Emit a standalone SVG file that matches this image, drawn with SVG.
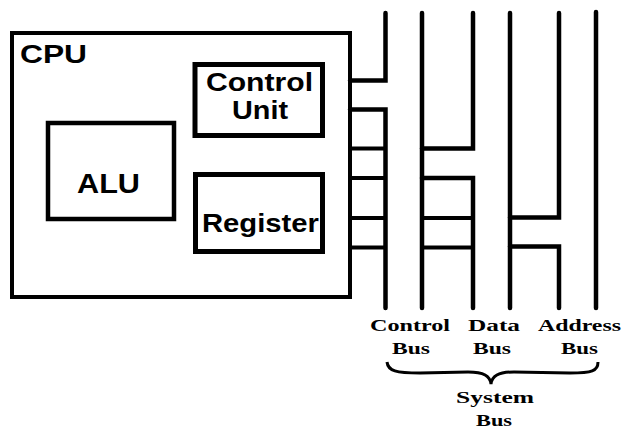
<svg xmlns="http://www.w3.org/2000/svg" width="622" height="431" viewBox="0 0 622 431">
<style>
  .box { fill: #fff; stroke: #000; }
  .lbl { font-family: "Liberation Sans", Arial, sans-serif; font-weight: bold; fill: #000; }
  .bus { fill: none; stroke: #000; stroke-width: 4.5; stroke-linecap: round; stroke-linejoin: miter; }
  .wire { fill: none; stroke: #000; stroke-width: 4; stroke-linecap: butt; stroke-linejoin: miter; }
  .blbl { font-family: "Liberation Serif", "Times New Roman", serif; font-weight: bold; font-size: 17px; fill: #000; }
</style>
<rect width="622" height="431" fill="#fff"/>

<g id="cpu">
  <rect class="box" x="12" y="33" width="338" height="264" stroke-width="4"/>
  <text class="lbl" x="20" y="63" font-size="26" textLength="67" lengthAdjust="spacingAndGlyphs">CPU</text>
</g>

<g id="alu">
  <rect class="box" x="48" y="123" width="126" height="96" stroke-width="4.5"/>
  <text class="lbl" x="77" y="192.5" font-size="27" textLength="63" lengthAdjust="spacingAndGlyphs">ALU</text>
</g>

<g id="control-unit">
  <rect class="box" x="195" y="64.5" width="127.5" height="71" stroke-width="5"/>
  <text class="lbl" x="206" y="90.5" font-size="25" textLength="107" lengthAdjust="spacingAndGlyphs">Control</text>
  <text class="lbl" x="232" y="119" font-size="25" textLength="56" lengthAdjust="spacingAndGlyphs">Unit</text>
</g>

<g id="register">
  <rect class="box" x="195.5" y="174.5" width="127" height="77" stroke-width="5"/>
  <text class="lbl" x="202" y="231.5" font-size="25" textLength="117" lengthAdjust="spacingAndGlyphs">Register</text>
</g>

<g id="buses">
  <line class="bus" x1="422" y1="13" x2="422" y2="308"/>
  <line class="bus" x1="510" y1="13" x2="510" y2="308"/>
  <line class="bus" x1="596" y1="12" x2="596" y2="308"/>
</g>

<g id="connectors">
  <path class="bus" d="M350,80.5 H385.5 V13"/>
  <path class="bus" d="M350,109.5 H385.5 V308"/>
  <path class="bus" d="M422,148.5 H473 V13"/>
  <path class="bus" d="M422,178 H473 V308"/>
  <path class="bus" d="M510,217.5 H559 V13"/>
  <path class="bus" d="M510,246.5 H559 V308"/>
  <line class="wire" x1="350" y1="148.5" x2="385.5" y2="148.5"/>
  <line class="wire" x1="350" y1="178" x2="385.5" y2="178"/>
  <line class="wire" x1="350" y1="218" x2="385.5" y2="218"/>
  <line class="wire" x1="350" y1="247.5" x2="385.5" y2="247.5"/>
  <line class="wire" x1="422" y1="218" x2="473" y2="218"/>
  <line class="wire" x1="422" y1="247.5" x2="473" y2="247.5"/>
</g>

<g id="bus-labels">
  <text class="blbl" x="370" y="331" textLength="80" lengthAdjust="spacingAndGlyphs">Control</text>
  <text class="blbl" x="392" y="354" textLength="38" lengthAdjust="spacingAndGlyphs">Bus</text>
  <text class="blbl" x="468" y="331" textLength="52" lengthAdjust="spacingAndGlyphs">Data</text>
  <text class="blbl" x="473" y="354" textLength="38" lengthAdjust="spacingAndGlyphs">Bus</text>
  <text class="blbl" x="538" y="331" textLength="83" lengthAdjust="spacingAndGlyphs">Address</text>
  <text class="blbl" x="561" y="354" textLength="37" lengthAdjust="spacingAndGlyphs">Bus</text>
</g>

<g id="system-bus">
  <path d="M387,362 C388,371 396,373 420,373 L468,372 C484,372 490,376 491,384 C492,376 498,372 514,372 L570,373 C592,373 598,371 598,362" fill="none" stroke="#000" stroke-width="3"/>
  <text class="blbl" x="456" y="403" textLength="78" lengthAdjust="spacingAndGlyphs">System</text>
  <text class="blbl" x="476" y="426" textLength="36" lengthAdjust="spacingAndGlyphs">Bus</text>
</g>
</svg>
